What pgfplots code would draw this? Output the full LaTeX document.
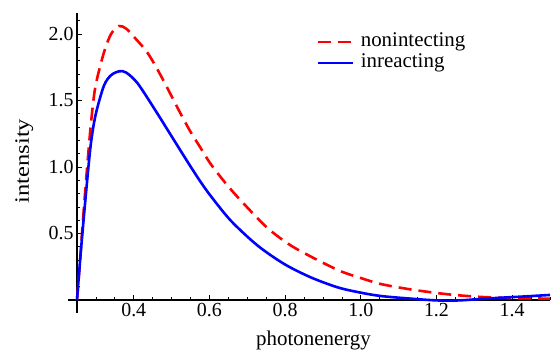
\documentclass[border=0pt]{standalone}
\usepackage{pgfplots}
\pgfplotsset{compat=1.18}
\usepackage{fontspec}
\setmainfont{Liberation Serif}
\begin{document}
\begin{tikzpicture}
\useasboundingbox (-77bp,-52bp) rectangle (480bp,300bp);
\begin{axis}[
  at={(0,0)}, anchor=south west,
  scale only axis, width=473bp, height=287bp,
  xmin=0.25, xmax=1.5, ymin=0, ymax=2.158,
  axis lines*=left,
  axis line style={line width=1.2bp},
  clip=false,
  tick align=inside,
  major tick length=5bp, minor tick length=3bp,
  every tick/.style={black, line width=0.7bp},
  xtick={0.4,0.6,0.8,1.0,1.2,1.4},
  xticklabels={\textrm{0.4},\textrm{0.6},\textrm{0.8},\textrm{1.0},\textrm{1.2},\textrm{1.4}},
  minor xtick={0.3,0.35,0.45,0.5,0.55,0.65,0.7,0.75,0.85,0.9,0.95,1.05,1.1,1.15,1.25,1.3,1.35,1.45,1.5},
  ytick={0.5,1.0,1.5,2.0},
  yticklabels={\textrm{0.5},\textrm{1.0},\textrm{1.5},\textrm{2.0}},
  minor ytick={0.1,0.2,0.3,0.4,0.6,0.7,0.8,0.9,1.1,1.2,1.3,1.4,1.6,1.7,1.8,1.9,2.1},
  xticklabel style={font=\rmfamily\fontsize{20}{22}\selectfont},
  yticklabel style={font=\rmfamily\fontsize{20}{22}\selectfont},
  xlabel={photonenergy},
  ylabel={\scalebox{1.2}[1]{intensity}},
  xlabel style={font=\fontsize{21}{22}\selectfont, at={(axis description cs:0.5,-0.160)}, anchor=base},
  ylabel style={font=\fontsize{20.5}{22}\selectfont, at={(axis description cs:-0.1015,0.484)}, anchor=base},
  legend style={at={(axis description cs:0.5053,0.9286)}, anchor=north west, draw=none, fill=none,
    font=\fontsize{21}{22}\selectfont, inner sep=0pt, row sep=4bp, column sep=7bp,
    nodes={inner sep=0pt, text height=13bp, text depth=4bp}},
  legend cell align=left,
  legend image code/.code={\draw[#1] (0bp,0bp) -- (35bp,0bp);},
]
\draw[line width=1.2bp] (axis cs:0.25,0) -- (axis cs:0.25,-0.1);
\draw[line width=1.2bp] (axis cs:0.25,0) -- (axis cs:0.226,0);
\addplot[red, line width=2.6bp, dash pattern=on 13bp off 7bp, smooth, tension=0.5] coordinates {
(0.25,0) (0.258,0.29) (0.266,0.61) (0.278,1.04) (0.288,1.36) (0.299,1.61)
(0.321,1.86) (0.34,2.0) (0.361,2.06) (0.38,2.04) (0.40,1.98) (0.436,1.86)
(0.471,1.69) (0.524,1.40) (0.551,1.26) (0.573,1.16) (0.604,1.02) (0.648,0.86)
(0.692,0.72) (0.754,0.54) (0.815,0.41) (0.886,0.30) (0.948,0.215) (1.0,0.165)
(1.053,0.12) (1.124,0.083) (1.186,0.058) (1.247,0.038) (1.318,0.023) (1.389,0.015)
(1.45,0.012) (1.5,0.01)
};
\addlegendentry{nonintecting}
\addplot[blue, line width=2.6bp, smooth, tension=0.5] coordinates {
(0.25,0) (0.26,0.36) (0.273,0.78) (0.286,1.16) (0.299,1.39) (0.321,1.61)
(0.34,1.69) (0.362,1.72) (0.38,1.71) (0.41,1.63) (0.454,1.44) (0.498,1.24)
(0.542,1.04) (0.575,0.895) (0.604,0.78) (0.657,0.595) (0.727,0.41) (0.798,0.27)
(0.868,0.17) (0.939,0.095) (1.0,0.055) (1.053,0.03) (1.124,0.012) (1.2,-0.003)
(1.26,-0.003) (1.327,0.01) (1.389,0.02) (1.441,0.028) (1.5,0.038)
};
\addlegendentry{inreacting}
\end{axis}
\end{tikzpicture}
\end{document}
